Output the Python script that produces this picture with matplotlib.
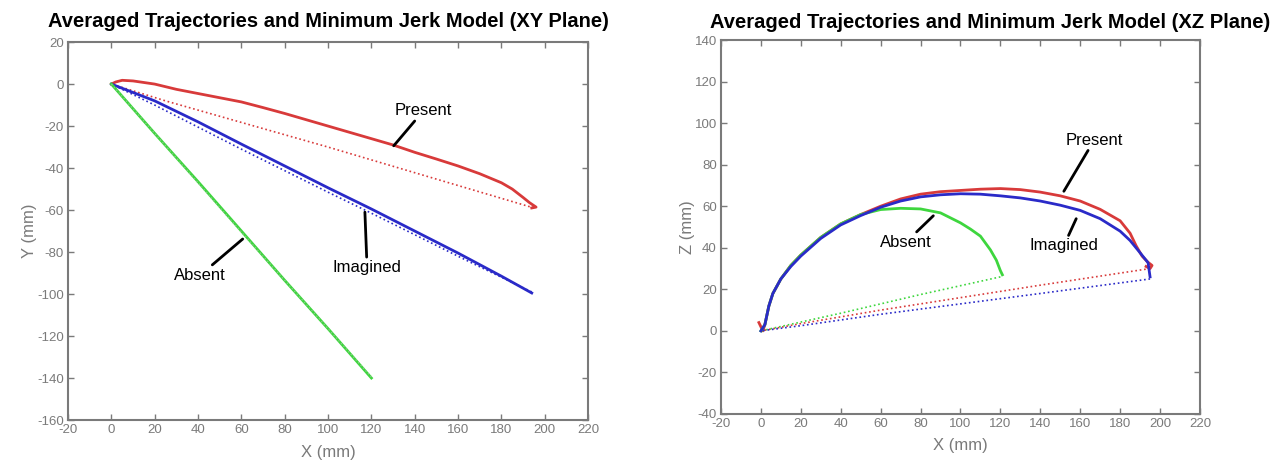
import numpy as np
import matplotlib.pyplot as plt

plt.rcParams['font.family'] = ['Liberation Sans', 'DejaVu Sans']
plt.rcParams['axes.unicode_minus'] = False

# XY plane - measured trajectories (solid) and minimum jerk model (dotted)
xy_present_x = [0, 2, 5, 10, 20, 30, 40, 50, 60, 70, 80, 90, 100, 110, 120, 130, 140, 150, 160, 170, 180, 185, 190, 193, 196, 194]
xy_present_y = [0, 1, 1.8, 1.5, 0, -2.5, -4.5, -6.5, -8.5, -11.2, -14, -17, -20, -23, -26, -29, -32.5, -35.7, -39, -42.7, -47, -50, -54, -56.5, -58.6, -59]
xy_present_mj_x = [195, 100, 25, 0]
xy_present_mj_y = [-59, -30, -8, 0]

xy_imag_x = [0, 5, 20, 40, 60, 80, 100, 120, 140, 160, 180, 194]
xy_imag_y = [0, -2, -8, -18, -28.6, -39, -49.4, -59.5, -70, -80.5, -91.5, -99.5]
xy_imag_mj_x = [194, 160, 120, 100, 60, 20, 5, 0]
xy_imag_mj_y = [-99, -82, -61.5, -51.5, -31, -10, -2.5, 0]

xy_abs_x = [0, 20, 40, 60, 80, 100, 120]
xy_abs_y = [0, -23.5, -46.5, -70, -93.5, -116.5, -140]
xy_abs_mj_x = [120, 60, 0]
xy_abs_mj_y = [-139.5, -70.5, 0]

# XZ plane
xz_present_x = [-1, 1, 2, 4, 6, 10, 15, 20, 30, 40, 50, 60, 70, 80, 90, 100, 110, 120, 130, 140, 150, 160, 170, 180, 185, 188, 191, 194, 196, 195, 193]
xz_present_z = [4, 0, 3, 12, 18, 25, 31.5, 36.5, 45, 51.5, 56, 60, 63.5, 65.8, 67, 67.6, 68.2, 68.5, 68, 66.8, 65, 62.5, 58.5, 53, 47, 41, 36, 33, 31.5, 30, 31]
xz_present_mj_x = [195, 140, 100, 60, 20, 0]
xz_present_mj_z = [30, 22, 16, 10, 3.5, 0]

xz_imag_x = [0, 2, 4, 6, 10, 15, 20, 30, 40, 50, 60, 70, 80, 90, 100, 110, 120, 130, 140, 150, 160, 170, 180, 185, 190, 194, 195]
xz_imag_z = [0, 3, 12, 18, 25, 31, 36, 44.5, 51, 55.5, 59.5, 62.5, 64.5, 65.5, 66, 65.8, 65, 64, 62.5, 60.5, 58, 54, 48, 43.5, 37.6, 32.8, 26]
xz_imag_mj_x = [195, 140, 100, 60, 20, 0]
xz_imag_mj_z = [25, 18, 13, 8, 2.5, 0]

xz_abs_x = [0, 2, 4, 6, 10, 15, 20, 30, 40, 50, 60, 70, 80, 90, 100, 105, 110, 115, 118, 120, 121]
xz_abs_z = [0, 3, 12, 18, 25, 31.5, 36.5, 45, 51.5, 56, 58.4, 59, 58.7, 56.8, 52, 49, 45.6, 39, 34, 29, 27]
xz_abs_mj_x = [120, 80, 40, 0]
xz_abs_mj_z = [26, 17.5, 8.5, 0]

RED = '#d83a3a'
BLUE = '#2a2ac8'
GREEN = '#3ed63e'
GRAY = '#7a7a7a'

fig = plt.figure(figsize=(12.79, 4.62), dpi=100)
ax1 = fig.add_axes([0.0532, 0.0909, 0.4066, 0.818])
ax2 = fig.add_axes([0.5637, 0.1039, 0.3745, 0.8095])


def style(ax, ylabel, ylim):
    ax.set_xlim(-20, 220)
    ax.set_ylim(*ylim)
    ax.set_xticks(np.arange(-20, 221, 20))
    ax.set_yticks(np.arange(ylim[0], ylim[1] + 1, 20))
    ax.tick_params(direction='in', top=True, right=True, length=4, width=1,
                   colors=GRAY, labelsize=9.5, labelcolor=GRAY, pad=3)
    for s in ax.spines.values():
        s.set_color(GRAY)
        s.set_linewidth(1.5)
    ax.set_xlabel('X (mm)', color=GRAY, fontsize=12, labelpad=6)
    ax.set_ylabel(ylabel, color=GRAY, fontsize=12, labelpad=0)


# left panel
ax1.plot(xy_present_x, xy_present_y, color=RED, lw=2)
ax1.plot(xy_present_mj_x, xy_present_mj_y, color=RED, lw=1.2, ls=':')
ax1.plot(xy_imag_x, xy_imag_y, color=BLUE, lw=2)
ax1.plot(xy_imag_mj_x, xy_imag_mj_y, color=BLUE, lw=1.2, ls=':')
ax1.plot(xy_abs_x, xy_abs_y, color=GREEN, lw=2)
ax1.plot(xy_abs_mj_x, xy_abs_mj_y, color='#8ac88a', lw=1, ls=':')
style(ax1, 'Y (mm)', (-160, 20))
ax1.set_title('Averaged Trajectories and Minimum Jerk Model (XY Plane)',
              fontsize=14.5, fontweight='bold', pad=11)

ann = dict(fontsize=12, ha='center', va='center', color='black')
arrow = dict(arrowstyle='-', color='black', lw=2, shrinkA=0, shrinkB=0)
ax1.annotate('Present', xy=(130.3, -29.4), xytext=(144, -12.7), arrowprops=arrow, **ann)
ax1.annotate('Imagined', xy=(117, -61), xytext=(118, -87.3), arrowprops=arrow, **ann)
ax1.annotate('Absent', xy=(60.6, -73.8), xytext=(41, -91), arrowprops=arrow, **ann)

# right panel
ax2.plot(xz_present_x, xz_present_z, color=RED, lw=2)
ax2.plot(xz_present_mj_x, xz_present_mj_z, color=RED, lw=1.2, ls=':')
ax2.plot(xz_abs_x, xz_abs_z, color=GREEN, lw=2)
ax2.plot(xz_abs_mj_x, xz_abs_mj_z, color=GREEN, lw=1.2, ls=':')
ax2.plot(xz_imag_x, xz_imag_z, color=BLUE, lw=2)
ax2.plot(xz_imag_mj_x, xz_imag_mj_z, color=BLUE, lw=1.2, ls=':')
style(ax2, 'Z (mm)', (-40, 140))
ax2.set_title('Averaged Trajectories and Minimum Jerk Model (XZ Plane)',
              fontsize=14.5, fontweight='bold', pad=9, x=0.562)

ax2.annotate('Present', xy=(151.8, 67.2), xytext=(167, 91.8), arrowprops=arrow, **ann)
ax2.annotate('Imagined', xy=(158, 54), xytext=(151.8, 41), arrowprops=arrow, **ann)
ax2.annotate('Absent', xy=(86.4, 55.4), xytext=(72.7, 42.7), arrowprops=arrow, **ann)

fig.savefig('out.png', dpi=100)
